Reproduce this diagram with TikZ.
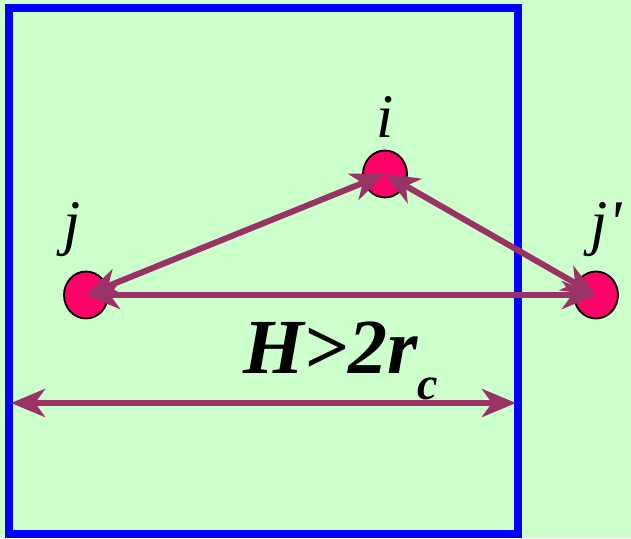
\documentclass[tikz,border=0pt]{standalone}
\usepackage{fontspec}
\setmainfont{Liberation Serif}
\usetikzlibrary{arrows.meta,shapes.geometric}
\definecolor{bggreen}{HTML}{CCFFCC}
\definecolor{wallblue}{HTML}{0000FF}
\definecolor{atompink}{HTML}{FF0066}
\definecolor{bondpurple}{HTML}{993366}

\begin{document}
\begin{tikzpicture}[
    x=1pt, y=-1pt,
    atom/.style={ellipse, draw=black, line width=1.8pt, fill=atompink, minimum width=44pt, minimum height=47pt, inner sep=0pt},
    lbl/.style={anchor=base, inner sep=0pt, font=\fontsize{62}{68}\selectfont\itshape},
    bond/.style={{Stealth[length=34pt,width=28pt,inset=10pt]}-{Stealth[length=34pt,width=28pt,inset=10pt]}, line width=6pt, draw=bondpurple}
]
% background and periodic wall
\fill[bggreen] (0,0) rectangle (631,538);
\useasboundingbox (0,0) rectangle (631,538);
\draw[wallblue, line width=8pt] (9,8) rectangle (518,534);

\node[atom] (i) at (385,174) {};
\node[atom] (j) at (86,295) {};
\node[atom] (jp) at (596,295) {};
\node[lbl] (ilabel) at (385,137) {i};
\node[lbl] (jlabel) at (72,243) {j};
\node[lbl] (jplabel) at (606,243) {j\textquotesingle};

\coordinate (wl) at (11,403);
\coordinate (wr) at (516,403);

\draw[bond] (j.center) -- (i.center);
\draw[bond] (i.center) -- (jp.center);
\draw[bond] (j.center) -- (jp.center);
\draw[bond] (wl) -- (wr);

\node[anchor=base west, inner sep=0pt, font=\fontsize{78}{84}\selectfont\bfseries\itshape] (cond) at (243,373)
  {H>2r\raisebox{-26pt}{\fontsize{46}{46}\selectfont c}};
\end{tikzpicture}
\end{document}
